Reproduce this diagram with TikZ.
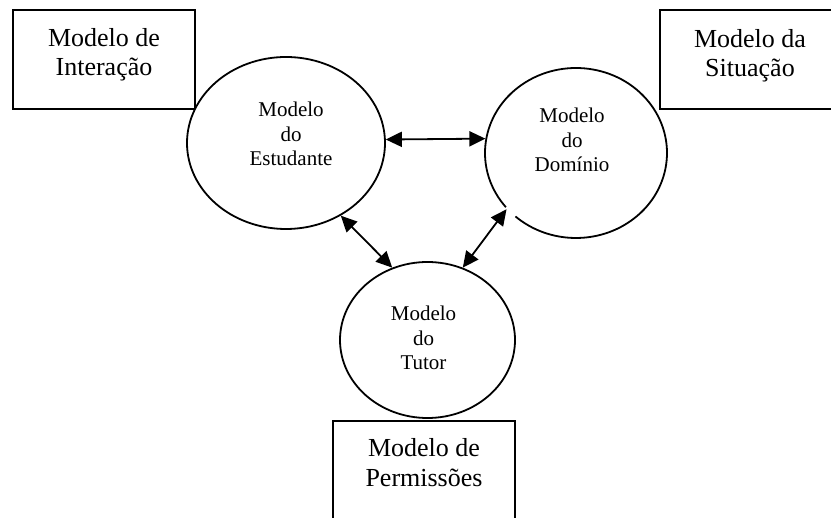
\documentclass[tikz,border=0pt]{standalone}
\usepackage{fontspec}
\setmainfont{Liberation Serif}
\usetikzlibrary{shapes.geometric,arrows.meta}
\begin{document}
\begin{tikzpicture}[x=1pt,y=-1pt,
  boxframe/.style={draw, line width=2pt, rectangle, inner sep=0pt},
  boxlabel/.style={font=\fontsize{26}{29.5}\selectfont, align=center, anchor=base, inner sep=0pt},
  bubble/.style={ellipse, inner sep=0pt, line width=1.8pt, fill=white},
  bubblelabel/.style={font=\fontsize{21}{24.5}\selectfont, align=center, anchor=base, inner sep=0pt},
  link/.style={line width=1.8pt, {Triangle[length=16pt,width=15pt]}-{Triangle[length=16pt,width=15pt]}}]
\useasboundingbox[fill=white] (0,0) rectangle (831,518);

% outer boxes
\node[boxframe, minimum width=182pt, minimum height=99pt] (inter) at (104,59.5) {};
\node[boxframe, minimum width=180pt, minimum height=99pt] (sit) at (750,59.5) {};
\node[boxframe, minimum width=182pt, minimum height=99pt] (perm) at (424,471) {};
% the base anchor sits on the last line of each label
\node[boxlabel] (intertxt) at (104,76) {Modelo de\\Interação};
\node[boxlabel] (sittxt) at (750,77) {Modelo da\\Situação};
\node[boxlabel] (permtxt) at (424,486.5) {Modelo de\\Permissões};

% the three models
\node[bubble, draw, minimum width=198pt, minimum height=172pt] (est) at (286,143) {};
\node[bubble, minimum width=182pt, minimum height=170pt] (dom) at (576,153) {};
\draw[line width=1.8pt] (dom.center) ++(140.4:91 and 85)
  arc[start angle=140.4, end angle=491.7, x radius=91, y radius=85];
\node[bubble, draw, minimum width=175pt, minimum height=156pt] (tut) at (427.5,340) {};

\node[bubblelabel] (esttxt) at (291,166) {Modelo\\do\\Estudante};
\node[bubblelabel] (domtxt) at (572,172) {Modelo\\do\\Domínio};
\node[bubblelabel] (tuttxt) at (423.5,370) {Modelo\\do\\Tutor};

% connectors
\draw[link] (est.2) -- (dom.171);
\draw[link] (est.-53) -- (tut.116);
\draw[link] (dom.219) -- (tut.64);
\end{tikzpicture}
\end{document}
